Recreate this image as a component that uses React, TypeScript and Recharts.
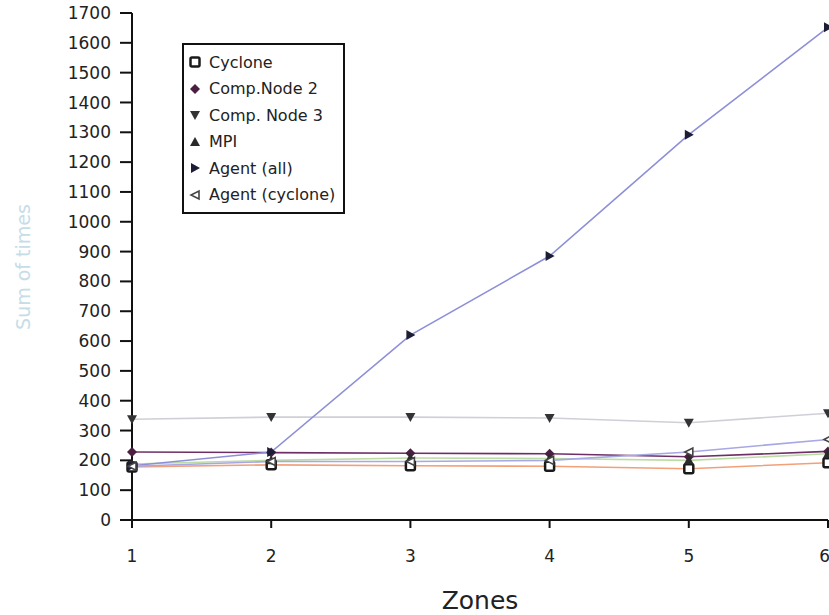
import React from 'react';
import {
  LineChart,
  Line,
  XAxis,
  YAxis,
} from 'recharts';

// zones on the x axis
const zones = [1, 2, 3, 4, 5, 6];
const yTicks = [0, 100, 200, 300, 400, 500, 600, 700, 800, 900, 1000, 1100, 1200, 1300, 1400, 1500, 1600, 1700];

// sum of times per series
const cyclone = [178, 185, 182, 180, 172, 192];
const compNode2 = [228, 226, 224, 222, 212, 230];
const compNode3 = [338, 345, 345, 342, 326, 358];
const mpi = [188, 200, 208, 206, 200, 222];
const agentAll = [182, 228, 620, 885, 1292, 1652];
const agentCyclone = [180, 196, 196, 200, 228, 270];

const SERIES = [
  { key: 'cyclone', name: 'Cyclone', shape: 'square', color: '#f2a07a', values: cyclone },
  { key: 'compNode2', name: 'Comp.Node 2', shape: 'diamond', color: '#6e2f66', values: compNode2 },
  { key: 'compNode3', name: 'Comp. Node 3', shape: 'down', color: '#cfcfd8', values: compNode3 },
  { key: 'mpi', name: 'MPI', shape: 'up', color: '#bcdca4', values: mpi },
  { key: 'agentAll', name: 'Agent (all)', shape: 'right', color: '#8d90d8', values: agentAll },
  { key: 'agentCyclone', name: 'Agent (cyclone)', shape: 'left', color: '#a7a8e4', values: agentCyclone },
];

const data = zones.map((z, i) => {
  const row: any = { zone: z };
  SERIES.forEach((s) => {
    row[s.key] = s.values[i];
  });
  return row;
});

const Marker = ({ shape, cx, cy }: { shape: string; cx: number; cy: number }) => {
  if (cx == null || cy == null) return null;
  switch (shape) {
    case 'square':
      return <rect x={cx - 4.5} y={cy - 4.5} width={9} height={9} rx={1.5} fill="#fff" stroke="#1a1a1a" strokeWidth={2.5} />;
    case 'diamond':
      return <polygon points={`${cx},${cy - 5} ${cx + 5},${cy} ${cx},${cy + 5} ${cx - 5},${cy}`} fill="#4a1f40" />;
    case 'down':
      return <polygon points={`${cx - 5},${cy - 4} ${cx + 5},${cy - 4} ${cx},${cy + 5}`} fill="#333" />;
    case 'up':
      return <polygon points={`${cx - 5},${cy + 4} ${cx + 5},${cy + 4} ${cx},${cy - 5}`} fill="#2a2a2a" />;
    case 'right':
      return <polygon points={`${cx - 4},${cy - 5} ${cx - 4},${cy + 5} ${cx + 5},${cy}`} fill="#1d1d35" />;
    case 'left':
      return <polygon points={`${cx + 4},${cy - 4} ${cx + 4},${cy + 4} ${cx - 4},${cy}`} fill="#fff" stroke="#444" strokeWidth={1.6} />;
    default:
      return null;
  }
};

const LegendBox = () => (
  <div
    style={{
      position: 'absolute',
      left: 182,
      top: 43,
      border: '2px solid #111',
      background: '#fff',
      padding: '4px 8px 4px 5px',
      fontSize: 16,
      color: '#222',
    }}
  >
    {SERIES.map((s) => (
      <div key={s.key} style={{ display: 'flex', alignItems: 'center', height: 26.5 }}>
        <svg width={12} height={12} style={{ marginRight: 8 }}>
          <Marker shape={s.shape} cx={6} cy={6} />
        </svg>
        <span>{s.name}</span>
      </div>
    ))}
  </div>
);

const YLabel = () => (
  <text
    x={24}
    y={267}
    transform="rotate(-90 24 267)"
    textAnchor="middle"
    dominantBaseline="middle"
    fill="#c6dde8"
    fontSize={19}
  >
    Sum of times
  </text>
);

export default function App() {
  return (
    <div style={{ position: 'absolute', left: 0, top: 0, width: 829, height: 615, fontFamily: '"DejaVu Sans", sans-serif', background: '#fff' }}>
      <LineChart width={829} height={615} data={data} margin={{ top: 13, right: 1, bottom: 0, left: 0 }}>
        <XAxis
          dataKey="zone"
          type="number"
          domain={[1, 6]}
          ticks={zones}
          height={95}
          stroke="#111"
          strokeWidth={2}
          tickSize={8}
          tickMargin={22}
          tickLine={{ stroke: '#111', strokeWidth: 2 }}
          tick={{ fontSize: 17, fill: '#222' }}
          label={{ value: 'Zones', position: 'insideBottom', offset: 6, fontSize: 25, fill: '#222' }}
        />
        <YAxis
          type="number"
          domain={[0, 1700]}
          ticks={yTicks}
          interval={0}
          width={132}
          stroke="#111"
          strokeWidth={2}
          tickSize={12}
          tickMargin={9}
          tickLine={{ stroke: '#111', strokeWidth: 2 }}
          tick={{ fontSize: 17, fill: '#222' }}
          label={<YLabel />}
        />
        {SERIES.map((s) => (
          <Line
            key={s.key}
            dataKey={s.key}
            name={s.name}
            type="linear"
            stroke={s.color}
            strokeWidth={1.6}
            isAnimationActive={false}
            dot={(p: any) => <Marker key={`${s.key}-${p.index}`} shape={s.shape} cx={p.cx} cy={p.cy} />}
            activeDot={false}
          />
        ))}
      </LineChart>
      <LegendBox />
    </div>
  );
}
